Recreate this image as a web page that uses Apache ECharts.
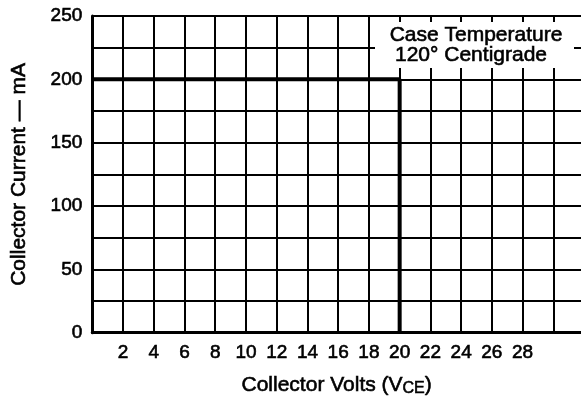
<!DOCTYPE html>
<html>
<head>
<meta charset="utf-8">
<script src="https://cdn.jsdelivr.net/npm/echarts@6/dist/echarts.min.js"></script>
<style>html,body{margin:0;padding:0;background:#fff;}#c{width:581px;height:402px;}</style>
</head>
<body>
<div id="c"></div>
<script>
// Data
const xTickLabels = [2, 4, 6, 8, 10, 12, 14, 16, 18, 20, 22, 24, 26, 28];
const yTickLabels = [0, 50, 100, 150, 200, 250];
const limitVolts = [0, 20, 20];
const limitCurrent = [200, 200, 0];
const annotationLines = ['Case Temperature', '120° Centigrade'];

const FONT = '"Liberation Sans", Arial, Helvetica, sans-serif';
const chart = echarts.init(document.getElementById('c'), null, {renderer: 'canvas'});
const limitData = limitVolts.map((v, i) => [v, limitCurrent[i]]);
const thick = {textBorderColor: '#000', textBorderWidth: 0.6};

chart.setOption({
  animation: false,
  backgroundColor: '#fff',
  grid: {left: 92, top: 16, right: 0, bottom: 69, containLabel: false},
  xAxis: {
    type: 'value', min: 0, max: 31.8, interval: 2,
    name: 'Collector Volts (V{s|CE})',
    nameLocation: 'middle', nameGap: 41,
    nameTextStyle: Object.assign({color: '#000', fontFamily: FONT, fontSize: 21,
      rich: {s: Object.assign({fontSize: 16, verticalAlign: 'bottom', padding: [7, 0, 0, 0], color: '#000', fontFamily: FONT}, thick)}}, thick),
    axisLine: {show: true, lineStyle: {color: '#000', width: 3}},
    axisTick: {show: false},
    axisLabel: Object.assign({color: '#000', fontFamily: FONT, fontSize: 19, margin: 11,
      showMaxLabel: false,
      formatter: v => xTickLabels.indexOf(v) >= 0 ? String(v) : ''}, thick),
    splitLine: {show: true, showMaxLine: false, lineStyle: {color: '#000', width: 2}}
  },
  yAxis: {
    type: 'value', min: 0, max: 250, interval: 25,
    name: 'Collector Current — mA',
    nameLocation: 'middle', nameGap: 63, nameRotate: 90,
    nameTextStyle: Object.assign({color: '#000', fontFamily: FONT, fontSize: 21}, thick),
    axisLine: {show: true, lineStyle: {color: '#000', width: 3}},
    axisTick: {show: false},
    axisLabel: Object.assign({color: '#000', fontFamily: FONT, fontSize: 19, margin: 10,
      formatter: v => yTickLabels.indexOf(v) >= 0 ? String(v) : ''}, thick),
    splitLine: {show: true, lineStyle: {color: '#000', width: 2}}
  },
  series: [{
    type: 'line', data: limitData, symbol: 'none',
    lineStyle: {color: '#000', width: 4}, clip: false, z: 5
  }],
  graphic: [{
    type: 'rect', left: 375, top: 22, z: 100,
    shape: {width: 199, height: 46}, style: {fill: '#fff'}
  }, {
    type: 'text', x: 476, y: 35, z: 101,
    style: {text: annotationLines[0], fill: '#000', font: '21px ' + FONT, align: 'center', verticalAlign: 'middle', stroke: '#000', lineWidth: 0.6}
  }, {
    type: 'text', x: 471, y: 55, z: 101,
    style: {text: annotationLines[1], fill: '#000', font: '21px ' + FONT, align: 'center', verticalAlign: 'middle', stroke: '#000', lineWidth: 0.6}
  }]
});
</script>
</body>
</html>
